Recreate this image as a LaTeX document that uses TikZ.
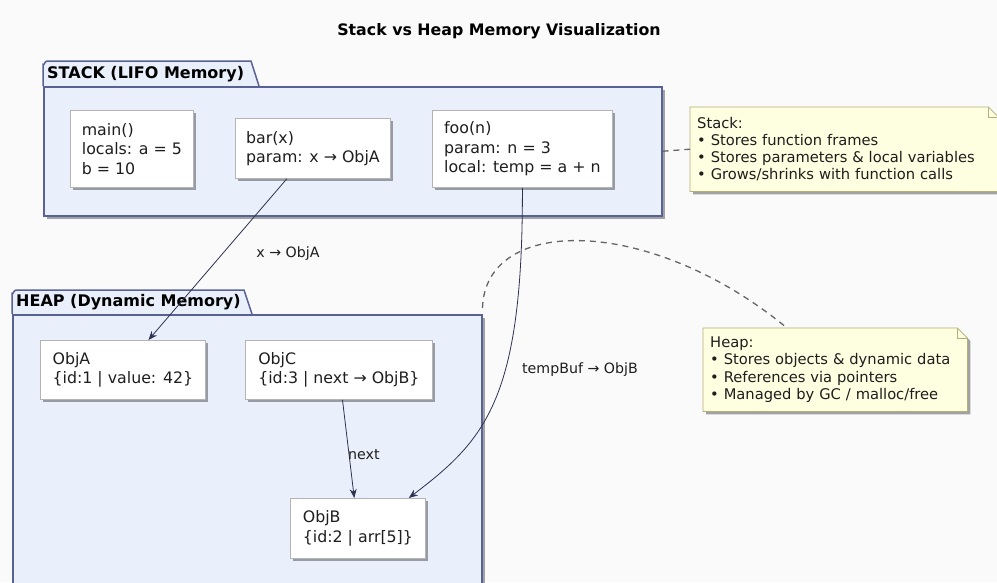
\documentclass[tikz,border=0pt]{standalone}
\usepackage{fontspec}
\setmainfont{DejaVu Sans}
\usetikzlibrary{shadows,arrows.meta,calc}
\pgfdeclarelayer{background}
\pgfsetlayers{background,main}
\definecolor{bg}{RGB}{250,250,250}
\definecolor{pkgfill}{RGB}{233,239,251}
\definecolor{pkgline}{RGB}{88,98,148}
\definecolor{notefill}{RGB}{254,254,224}
\definecolor{noteline}{RGB}{180,175,120}
\definecolor{boxline}{RGB}{180,180,180}
\definecolor{edgec}{RGB}{45,50,80}
\definecolor{txt}{RGB}{30,30,30}
\begin{document}
\begin{tikzpicture}[x=1pt,y=-1pt,
  shad/.style={drop shadow={shadow xshift=3pt,shadow yshift=-3pt,fill=black,opacity=0.35}},
  objbox/.style={draw=boxline, fill=white, line width=0.8pt, align=left, inner sep=0pt,
     text=txt, font=\fontsize{15.8}{19.5}\selectfont, anchor=north west, shad},
  pkgbody/.style={draw=pkgline, fill=pkgfill, line width=1.5pt, inner sep=0pt, anchor=north west, shad},
  pkgtab/.style={draw=pkgline, fill=pkgfill, line width=1.5pt},
  pkglabel/.style={font=\bfseries\fontsize{16}{18}\selectfont, anchor=west, text=black, inner sep=0pt},
  notebox/.style={inner xsep=7pt, inner ysep=0pt, align=left, anchor=north west, text=txt,
     font=\fontsize{14.7}{17.2}\selectfont},
  noteshape/.style={draw=noteline, fill=notefill, line width=0.8pt, shad},
  arr/.style={draw=edgec, line width=0.8pt, -{Stealth[length=9pt,width=7pt]}},
  lbl/.style={font=\fontsize{14.2}{16}\selectfont, text=txt, inner sep=0pt},
  notelink/.style={draw=black!60, line width=1.3pt, dash pattern=on 6pt off 5pt}
]
\begin{pgfonlayer}{background}
\fill[bg] (0,0) rectangle (997,582);
\end{pgfonlayer}
\useasboundingbox (0,0) rectangle (997,582);
\clip (0,0) rectangle (997,582);

% title
\node[font=\bfseries\fontsize{15.8}{18}\selectfont, text=black] (title) at (499,31) {Stack vs Heap Memory Visualization};

% STACK package
\draw[pkgtab] (43,86) -- (43,65) to[out=-90,in=180] (47,61) -- (251,61) -- (259,86);
\node[pkgbody, minimum width=618pt, minimum height=129pt] (stack) at (43,86) {};
\node[pkglabel] (stacklbl) at (47,74) {STACK (LIFO Memory)};

\node[objbox, minimum width=123pt, minimum height=77pt] (main) at (70,110)
  {main()\\locals: a = 5\\b = 10};
\node[objbox, minimum width=155pt, minimum height=60pt] (bar) at (235,118)
  {bar(x)\\param: x → ObjA};
\node[objbox, minimum width=180pt, minimum height=77pt] (foo) at (432,110)
  {foo(n)\\param: n = 3\\local: temp = a + n};

% HEAP package
\draw[pkgtab] (12,314) -- (12,294) to[out=-90,in=180] (16,290) -- (244,290) -- (252,314);
\node[pkgbody, minimum width=469pt, minimum height=300pt] (heap) at (12,314) {};
\node[pkglabel] (heaplbl) at (16,302) {HEAP (Dynamic Memory)};

\node[objbox, minimum width=165pt, minimum height=59pt] (objA) at (40,340)
  {ObjA\\\{id:1 | value: 42\}};
\node[objbox, minimum width=187pt, minimum height=59pt] (objC) at (245,340)
  {ObjC\\\{id:3 | next → ObjB\}};
\node[objbox, minimum width=135pt, minimum height=60pt] (objB) at (290,498)
  {ObjB\\\{id:2 | arr[5]\}};

% Stack note
\node[notebox, text width=294pt, minimum height=84pt] (snote) at (690,107)
  {Stack:\\• Stores function frames\\• Stores parameters \& local variables\\• Grows/shrinks with function calls};
\begin{pgfonlayer}{background}
\path[noteshape] (snote.north west) -- ($(snote.north east)+(-10,0)$) -- ($(snote.north east)+(0,10)$)
  -- (snote.south east) -- (snote.south west) -- cycle;
\draw[draw=noteline, line width=0.8pt] ($(snote.north east)+(-10,0)$) -- ($(snote.north east)+(-10,10)$) -- ($(snote.north east)+(0,10)$);
\end{pgfonlayer}

% Heap note
\node[notebox, text width=250pt, minimum height=83pt] (hnote) at (703,328)
  {Heap:\\• Stores objects \& dynamic data\\• References via pointers\\• Managed by GC / malloc/free};
\begin{pgfonlayer}{background}
\path[noteshape] (hnote.north west) -- ($(hnote.north east)+(-10,0)$) -- ($(hnote.north east)+(0,10)$)
  -- (hnote.south east) -- (hnote.south west) -- cycle;
\draw[draw=noteline, line width=0.8pt] ($(hnote.north east)+(-10,0)$) -- ($(hnote.north east)+(-10,10)$) -- ($(hnote.north east)+(0,10)$);
\end{pgfonlayer}

% note links
\draw[notelink] (stack.east) -- (snote.west);
\coordinate (hstart) at ($(heap.north east)+(0,-6)$);
\coordinate (hend) at ($(hnote.north west)+(84,0)$);
\draw[notelink] (hstart) .. controls (485,215) and (650,215) .. (hend);

% edges
\draw[arr] (bar) -- (objA);
\draw[arr] (objC) -- (objB);
\coordinate (bIn) at ($(objB.north east)+(-17,0)$);
\draw[arr] (foo.south) .. controls (523,400) and (485,440) .. (bIn);

% edge labels
\node[lbl] (l1) at (288,254) {x → ObjA};
\node[lbl, anchor=west] (l2) at (348,455) {next};
\node[lbl] (l3) at (580,370) {tempBuf → ObjB};
\end{tikzpicture}
\end{document}
